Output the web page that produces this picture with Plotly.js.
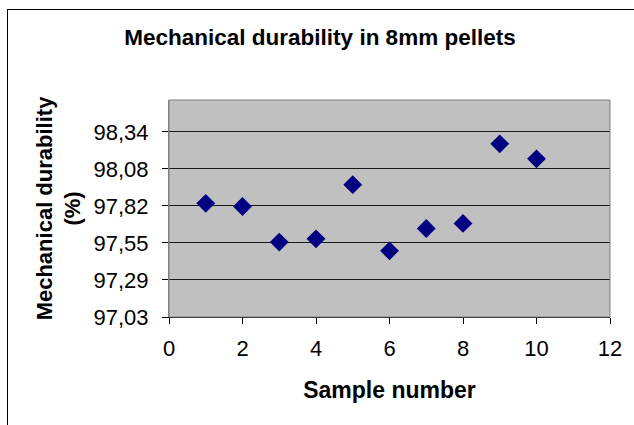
<!DOCTYPE html>
<html>
<head>
<meta charset="utf-8">
<script src="https://cdn.plot.ly/plotly-3.0.1.min.js"></script>
<style>
  html, body { margin: 0; padding: 0; background: #fff; }
  #chart { position: absolute; left: 0; top: 0; width: 634px; height: 425px; }
  #frame { position: absolute; left: 7px; top: 9px; width: 700px; height: 500px;
           border-left: 1px solid #000; border-top: 1px solid #000; pointer-events: none; }
</style>
</head>
<body>
<div id="chart"></div>
<div id="frame"></div>
<script>
const sampleNumbers = [1, 2, 3, 4, 5, 6, 7, 8, 9, 10];
const durability = [97.834, 97.812, 97.56, 97.583, 97.966, 97.498, 97.656, 97.692, 98.255, 98.149];

const font = "Liberation Sans, Arial, sans-serif";

const trace = {
  x: sampleNumbers,
  y: durability,
  type: "scatter",
  mode: "markers",
  marker: { symbol: "diamond", size: 14.5, color: "#000080" },
  hoverinfo: "x+y"
};

const layout = {
  width: 634,
  height: 425,
  margin: { l: 169, r: 24, t: 100, b: 108 },
  paper_bgcolor: "#ffffff",
  plot_bgcolor: "#c0c0c0",
  separators: ", ",
  showlegend: false,
  font: { family: font, color: "#000" },
  title: {
    text: "<b>Mechanical durability in 8mm pellets</b>",
    font: { family: font, size: 22.5, color: "#000" },
    x: 320 / 634, xref: "container", xanchor: "center",
    y: 1 - 37 / 425, yref: "container", yanchor: "middle"
  },
  xaxis: {
    range: [0, 12],
    tick0: 0, dtick: 2,
    ticks: "outside", ticklen: 6, tickcolor: "#000", tickwidth: 1,
    ticklabelstandoff: 6,
    tickfont: { family: font, size: 22, color: "#000" },
    showgrid: false, zeroline: false,
    showline: true, linecolor: "#000", linewidth: 1,
    title: { text: "<b>Sample number</b>", font: { family: font, size: 23, color: "#000" }, standoff: 21 }
  },
  yaxis: {
    range: [97.03, 98.565],
    tick0: 97.03, dtick: 0.262,
    tickformat: ".2f",
    ticks: "outside", ticklen: 6, tickcolor: "#000", tickwidth: 1,
    ticklabelstandoff: 9,
    tickfont: { family: font, size: 22, color: "#000" },
    showgrid: true, gridcolor: "#1a1a1a", gridwidth: 1,
    zeroline: false,
    showline: true, linecolor: "#808080", linewidth: 1,
    title: { text: "<b>Mechanical durability<br>(%)</b>", font: { family: font, size: 22, color: "#000" }, standoff: 6 }
  },
  shapes: [
    { type: "rect", xref: "paper", yref: "paper", x0: 0, x1: 1, y0: 0, y1: 1,
      line: { color: "#808080", width: 1 }, fillcolor: "rgba(0,0,0,0)", layer: "above" }
  ]
};

Plotly.newPlot("chart", [trace], layout, { staticPlot: true, displayModeBar: false });
</script>
</body>
</html>
